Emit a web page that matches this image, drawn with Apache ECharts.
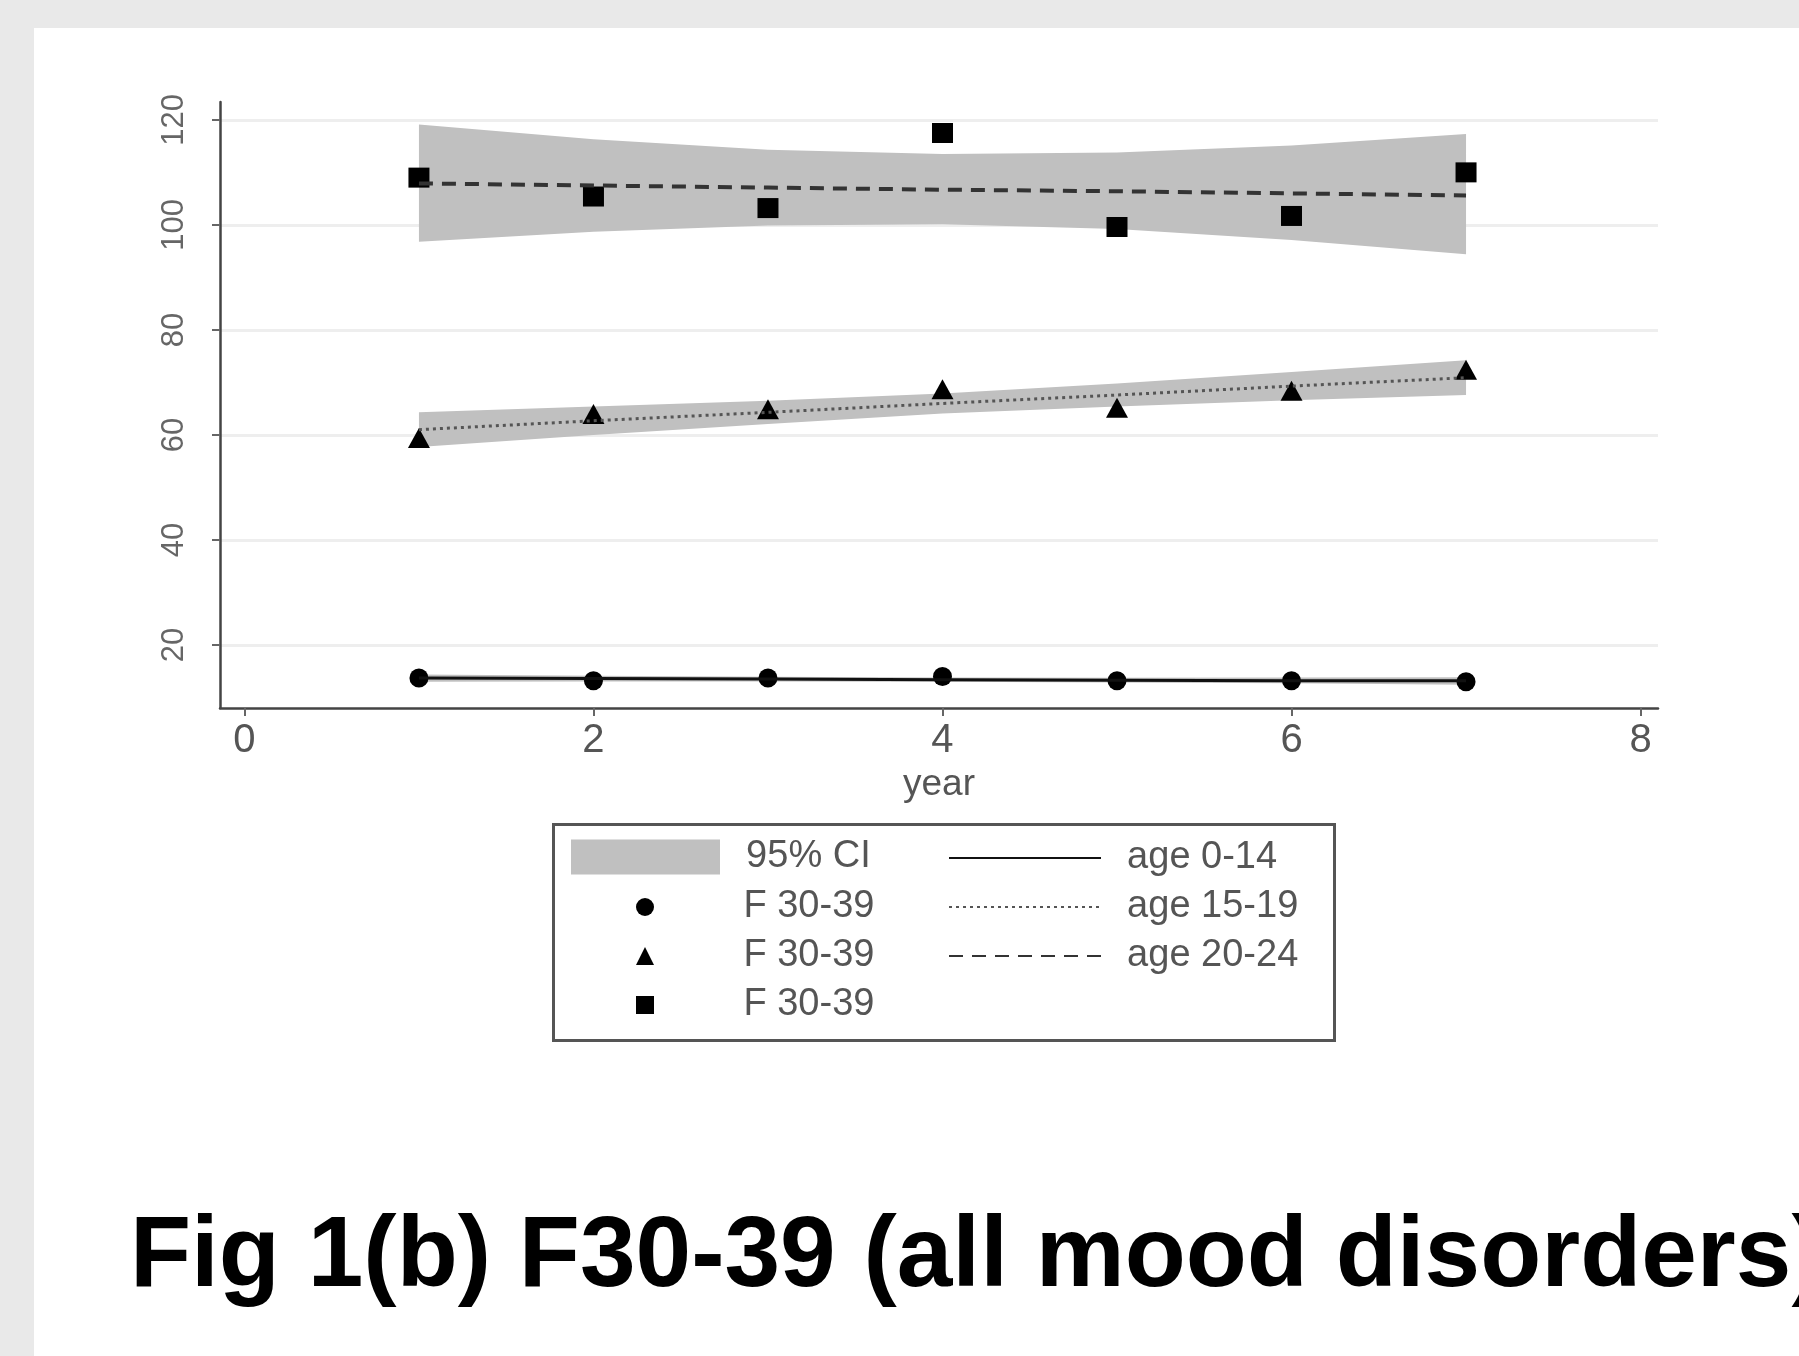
<!DOCTYPE html>
<html>
<head>
<meta charset="utf-8">
<script src="https://cdn.jsdelivr.net/npm/echarts@6/dist/echarts.min.js"></script>
<style>
  html, body { margin: 0; padding: 0; background: #e9e9e9; overflow: hidden; }
  #panel { position: absolute; left: 34px; top: 28px; right: 0; bottom: 0; background: #fff; }
  #chart { position: absolute; left: 0; top: 0; width: 1799px; height: 1356px; }
</style>
</head>
<body>
<div id="panel"></div>
<div id="chart"></div>
<script>
// data
var years = [1, 2, 3, 4, 5, 6, 7];
var xTicks = [0, 2, 4, 6, 8];
var yTicks = [20, 40, 60, 80, 100, 120];

// age 0-14 (circles)
var obs0to14 = [13.7, 13.2, 13.7, 14.0, 13.2, 13.2, 13.0];
var fit0to14 = [13.7, 13.6, 13.5, 13.4, 13.3, 13.2, 13.2];
var ciHigh0to14 = [14.4, 14.15, 13.95, 13.8, 13.75, 13.8, 13.85];
var ciLow0to14 = [13.0, 13.05, 13.05, 13.0, 12.85, 12.7, 12.45];

// age 15-19 (triangles)
var obs15to19 = [59.4, 64.0, 64.9, 68.7, 65.2, 68.4, 72.4];
var fit15to19 = [61.0, 62.7, 64.3, 66.0, 67.6, 69.3, 70.9];
var ciHigh15to19 = [64.3, 65.4, 66.5, 67.9, 69.8, 72.0, 74.2];
var ciLow15to19 = [57.7, 60.0, 62.1, 64.1, 65.4, 66.6, 67.6];

// age 20-24 (squares)
var obs20to24 = [109.0, 105.4, 103.2, 117.5, 99.6, 101.7, 110.0];
var fit20to24 = [107.9, 107.5, 107.1, 106.7, 106.4, 106.0, 105.6];
var ciHigh20to24 = [119.1, 116.3, 114.3, 113.5, 113.8, 115.1, 117.3];
var ciLow20to24 = [96.8, 98.7, 99.9, 100.1, 99.2, 97.1, 94.4];

var titleText = 'Fig 1(b) F30-39 (all mood disorders)';

var bandColor = '#c0c0c0';
var textColor = '#555';

function pairs(ys) {
  return years.map(function (x, i) { return [x, ys[i]]; });
}

function bandSeries(low, high) {
  return {
    type: 'custom',
    name: '95% CI',
    itemStyle: { color: bandColor },
    encode: { x: 0, y: [1, 2] },
    data: years.map(function (x, i) { return [x, low[i], high[i]]; }),
    renderItem: function (params, api) {
      if (params.dataIndex !== 0) return;
      var pts = [];
      for (var i = 0; i < years.length; i++) pts.push(api.coord([years[i], high[i]]));
      for (var j = years.length - 1; j >= 0; j--) pts.push(api.coord([years[j], low[j]]));
      return { type: 'polygon', shape: { points: pts }, style: { fill: bandColor } };
    }
  };
}

function fitSeries(name, ys, color, width, type) {
  return {
    type: 'line',
    name: name,
    data: pairs(ys),
    symbol: 'none',
    itemStyle: { color: color },
    lineStyle: { color: color, width: width, type: type }
  };
}

function dotSeries(name, ys, symbol, size) {
  return {
    type: 'scatter',
    name: name,
    data: pairs(ys),
    symbol: symbol,
    symbolSize: size,
    itemStyle: { color: '#000', opacity: 1 }
  };
}

var legendText = { fontSize: 38, color: textColor, fontFamily: 'Liberation Sans' };

var option = {
  animation: false,
  backgroundColor: 'transparent',
  textStyle: { fontFamily: 'Liberation Sans' },
  grid: { left: 220, right: 141, top: 102, bottom: 648 },
  xAxis: {
    type: 'value',
    min: -0.14,
    max: 8.1,
    name: 'year',
    nameLocation: 'middle',
    nameGap: 58,
    nameTextStyle: { fontSize: 37, color: textColor },
    axisLine: { show: true, onZero: false, lineStyle: { color: '#444', width: 2.5 } },
    axisTick: { show: true, length: 8, customValues: xTicks, lineStyle: { color: '#666', width: 2 } },
    axisLabel: { customValues: xTicks, fontSize: 40, color: textColor, margin: 13 },
    splitLine: { show: false }
  },
  yAxis: {
    type: 'value',
    min: 8,
    max: 123.4,
    axisLine: { show: true, onZero: false, lineStyle: { color: '#444', width: 2.5 } },
    axisTick: { show: true, length: 8, customValues: yTicks, lineStyle: { color: '#666', width: 2 } },
    axisLabel: { customValues: yTicks, rotate: 90, fontSize: 31, color: '#666', margin: 30 },
    splitLine: { show: true, lineStyle: { color: '#eeeeee', width: 3 } }
  },
  legend: [
    {
      left: 571, top: 838, padding: 0, selectedMode: false,
      itemWidth: 149, itemHeight: 35,
      data: [{ name: '95% CI', icon: 'rect' }],
      formatter: function (n) { return '  ' + n; },
      textStyle: legendText
    },
    {
      left: 636, top: 888, orient: 'vertical', padding: 0, itemGap: 11, selectedMode: false,
      itemWidth: 18, itemHeight: 18,
      data: [
        { name: 'F 30-39 (0-14)', icon: 'circle' },
        { name: 'F 30-39 (15-19)', icon: 'triangle' },
        { name: 'F 30-39 (20-24)', icon: 'rect' }
      ],
      formatter: function () { return '        F 30-39'; },
      textStyle: legendText
    },
    {
      left: 948, top: 839, orient: 'vertical', padding: 0, itemGap: 11, selectedMode: false,
      itemWidth: 152, itemHeight: 14,
      itemStyle: { opacity: 0 },
      data: ['age 0-14', 'age 15-19', 'age 20-24'],
      formatter: function (n) { return '  ' + n; },
      textStyle: legendText
    }
  ],
  graphic: [
    {
      type: 'rect', left: 551, top: 822, silent: true,
      shape: { width: 781, height: 216 },
      style: { fill: 'none', stroke: '#555', lineWidth: 3 }
    },
    {
      type: 'text', silent: true,
      style: {
        x: 130, y: 1258, text: titleText,
        font: 'bold 100px "Liberation Sans"', fill: '#000',
        verticalAlign: 'middle'
      }
    }
  ],
  series: [
    bandSeries(ciLow20to24, ciHigh20to24),
    bandSeries(ciLow15to19, ciHigh15to19),
    bandSeries(ciLow0to14, ciHigh0to14),
    fitSeries('age 0-14', fit0to14, '#111', 3, 'solid'),
    fitSeries('age 15-19', fit15to19, '#555', 3, [3, 4]),
    fitSeries('age 20-24', fit20to24, '#333', 4, [14, 9]),
    dotSeries('F 30-39 (0-14)', obs0to14, 'circle', 19),
    dotSeries('F 30-39 (15-19)', obs15to19, 'triangle', [22, 20]),
    dotSeries('F 30-39 (20-24)', obs20to24, 'rect', [21, 20])
  ]
};

var chart = echarts.init(document.getElementById('chart'), null, { renderer: 'canvas' });
chart.setOption(option);
</script>
</body>
</html>
